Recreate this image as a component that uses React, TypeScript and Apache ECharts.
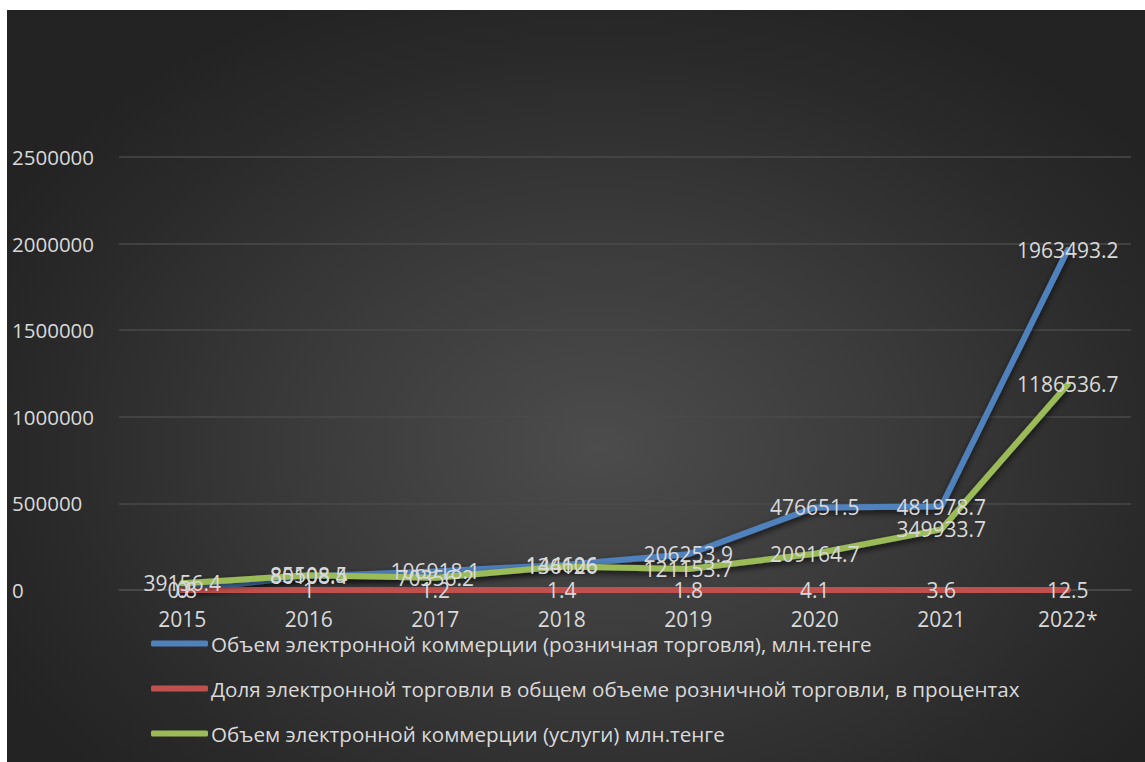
import React, { useEffect, useRef } from "react";
import * as echarts from "echarts";

const categories = ["2015", "2016", "2017", "2018", "2019", "2020", "2021", "2022*"];
const retailVolume = [0, 80108.4, 106918.1, 144606, 206253.9, 476651.5, 481978.7, 1963493.2];
const retailShare = [0.8, 1, 1.2, 1.4, 1.8, 4.1, 3.6, 12.5];
const servicesVolume = [39156.4, 85508.5, 70356.2, 136126, 121153.7, 209164.7, 349933.7, 1186536.7];
const seriesNames = [
  "Объем электронной коммерции (розничная торговля), млн.тенге",
  "Доля электронной торговли в общем объеме розничной торговли, в процентах",
  "Объем электронной коммерции (услуги) млн.тенге",
];
const colors = ["#4f81bd", "#c0504d", "#9bbb59"];

const FONT = "'Open Sans', sans-serif";
const TEXT = "#d9d9d9";

export default function App() {
  const ref = useRef<HTMLDivElement>(null);
  useEffect(() => {
    if (!ref.current) return;
    const chart = echarts.init(ref.current, undefined, { renderer: "svg" });
    const mk = (name: string, data: number[], color: string, shadow: boolean) => ({
      name,
      type: "line",
      data,
      showSymbol: true,
      symbol: "circle",
      symbolSize: 0.01,
      clip: false,
      lineStyle: shadow
        ? {
            color,
            width: 6,
            cap: "round",
            join: "round",
            shadowColor: "rgba(0,0,0,0.7)",
            shadowBlur: 6,
            shadowOffsetY: 3,
          }
        : { color, width: 6, cap: "round", join: "round" },
      itemStyle: { color },
      label: {
        show: true,
        position: "inside",
        color: TEXT,
        fontFamily: FONT,
        fontSize: 21,
        formatter: (p: any) => String(p.value),
      },
      labelLayout: { hideOverlap: false },
      emphasis: { disabled: true },
    });
    chart.setOption({
      animation: false,
      backgroundColor: "transparent",
      textStyle: { fontFamily: FONT },
      grid: { left: 112, right: 14, top: 147, bottom: 172, containLabel: false },
      legend: {
        orient: "vertical",
        left: 139,
        top: 618,
        itemWidth: 57,
        itemHeight: 6,
        itemGap: 24,
        icon: "roundRect",
        textStyle: { color: TEXT, fontSize: 20.6, fontFamily: FONT, padding: [0, 0, 0, -2] },
        data: seriesNames.map((n, i) => ({ name: n, itemStyle: { color: colors[i], opacity: 1 } })),
      },
      xAxis: {
        type: "category",
        data: categories,
        boundaryGap: true,
        axisLine: { show: true, lineStyle: { color: "#4a4a4a", width: 1.5 } },
        axisTick: { show: false },
        axisLabel: { color: TEXT, fontSize: 21, fontFamily: FONT, margin: 18 },
      },
      yAxis: {
        type: "value",
        min: 0,
        max: 2500000,
        interval: 500000,
        axisLine: { show: false },
        axisTick: { show: false },
        splitLine: { lineStyle: { color: "#4a4a4a", width: 1.5 } },
        axisLabel: {
          color: TEXT,
          fontSize: 20.5,
          fontFamily: FONT,
          align: "left",
          margin: 107,
          formatter: (v: number) => String(v),
        },
      },
      series: [
        mk(seriesNames[0], retailVolume, colors[0], true),
        mk(seriesNames[1], retailShare, colors[1], false),
        mk(seriesNames[2], servicesVolume, colors[2], true),
      ],
    });
    return () => chart.dispose();
  }, []);
  return (
    <div
      ref={ref}
      style={{
        position: "absolute",
        left: 7,
        top: 10,
        width: 1138,
        height: 752,
        background:
          "radial-gradient(ellipse 60% 65% at 52% 58%, #4c4c4c 0%, #3a3a3a 45%, #2a2a2a 80%, #232323 100%)",
      }}
    />
  );
}
